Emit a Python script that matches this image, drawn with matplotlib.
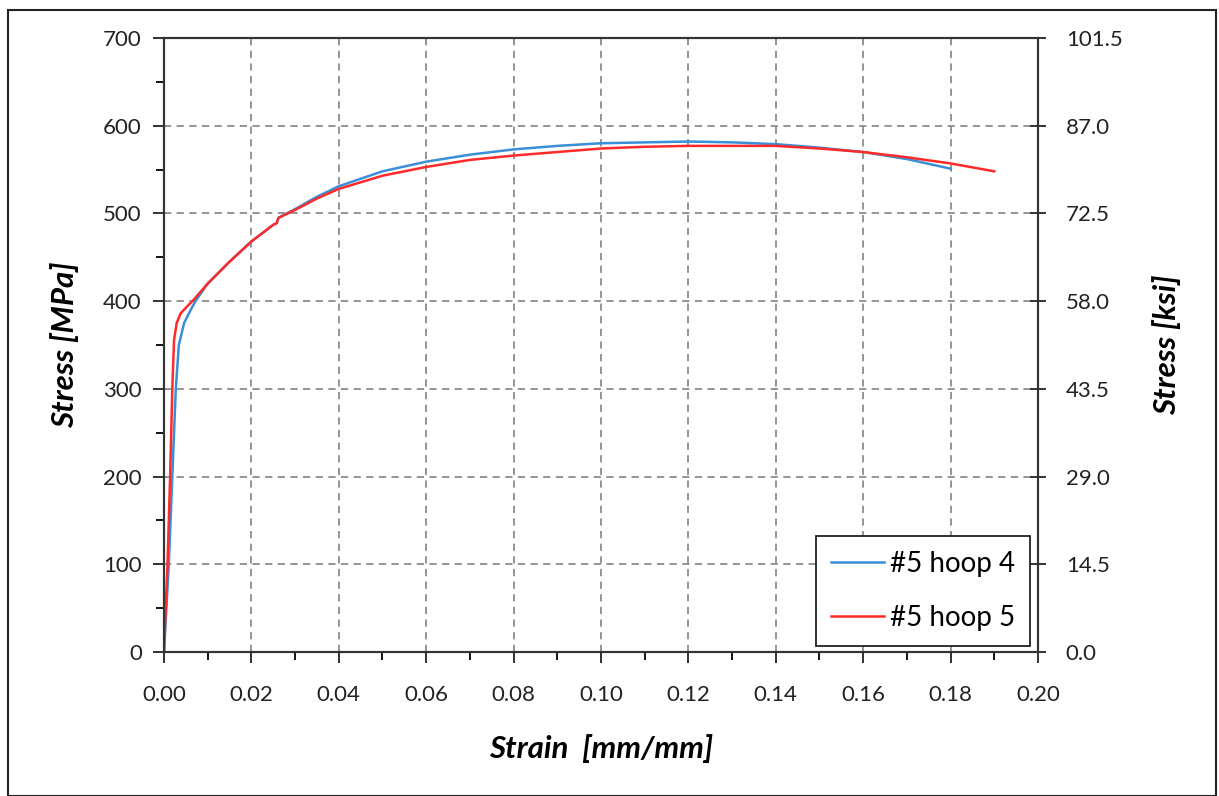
import matplotlib
matplotlib.use("Agg")
import matplotlib.pyplot as plt
from matplotlib.ticker import MultipleLocator, FixedLocator, FormatStrFormatter
from matplotlib.patches import Rectangle

# Tensile test data: strain [mm/mm] and engineering stress [MPa]
strain_hoop4 = [0.0, 0.0011, 0.0019, 0.0027, 0.0034, 0.0046, 0.0061, 0.0072, 0.010,
                0.015, 0.020, 0.025, 0.0258, 0.0262, 0.030, 0.035, 0.040, 0.050,
                0.060, 0.070, 0.080, 0.090, 0.100, 0.110, 0.120, 0.130, 0.140,
                0.150, 0.160, 0.170, 0.180]
stress_hoop4 = [0.0, 100, 200, 300, 350, 375, 390, 400, 420,
                445, 468, 487, 489, 495, 505, 519, 531, 548,
                559, 567, 573, 577, 580, 581, 582, 581, 579,
                575, 570, 562, 551]

strain_hoop5 = [0.0, 0.0008, 0.0014, 0.0019, 0.0023, 0.0029, 0.0038, 0.0053, 0.0065,
                0.010, 0.015, 0.020, 0.025, 0.0258, 0.0262, 0.030, 0.035, 0.040,
                0.050, 0.060, 0.070, 0.080, 0.090, 0.100, 0.110, 0.120, 0.130,
                0.140, 0.150, 0.160, 0.170, 0.180, 0.190]
stress_hoop5 = [0.0, 100, 200, 300, 356, 375, 386, 394, 400,
                420, 445, 468, 487, 489, 495, 504, 517, 528,
                543, 553, 561, 566, 570, 574, 576, 577, 577,
                577, 574, 570, 564, 557, 548]

label_hoop4 = "#5 hoop 4"
label_hoop5 = "#5 hoop 5"

mpa_ticks = [0, 100, 200, 300, 400, 500, 600, 700]
ksi_ticks = [0.0, 14.5, 29.0, 43.5, 58.0, 72.5, 87.0, 101.5]

plt.rcParams['font.family'] = ['Lato', 'DejaVu Sans']

fig = plt.figure(figsize=(12.19, 7.96), dpi=100)
ax = fig.add_axes([164 / 1219, 1 - 652 / 796, (1038 - 164) / 1219, (652 - 38) / 796])

ax.plot(strain_hoop4, stress_hoop4, color="#3a8fd8", lw=1.8, label=label_hoop4)
ax.plot(strain_hoop5, stress_hoop5, color="#ff2a2a", lw=1.8, label=label_hoop5)

ax.set_xlim(0, 0.20)
ax.set_ylim(0, 700)
ax.xaxis.set_major_locator(MultipleLocator(0.02))
ax.xaxis.set_minor_locator(MultipleLocator(0.01))
ax.xaxis.set_major_formatter(FormatStrFormatter("%.2f"))
ax.yaxis.set_major_locator(FixedLocator(mpa_ticks))
ax.yaxis.set_minor_locator(MultipleLocator(50))

ax.grid(True, which="major", color="#8c8c8c", linestyle=(0, (4, 3)), lw=1.3)
ax.tick_params(which="major", direction="out", length=8, width=1.3, labelsize=16,
               colors="#222222", pad=8)
ax.tick_params(which="minor", direction="out", length=6, width=1.3)
ax.tick_params(axis="x", pad=16)
for s in ax.spines.values():
    s.set_linewidth(1.5)
    s.set_color("#333333")

ax.set_xlabel("Strain  [mm/mm]", fontsize=22.5, fontweight="bold", fontstyle="italic",
              labelpad=21)
ax.set_ylabel("Stress [MPa]", fontsize=22.5, fontweight="bold", fontstyle="italic",
              labelpad=17)

ax2 = ax.twinx()
ax2.set_ylim(0, 101.5)
ax2.yaxis.set_major_locator(FixedLocator(ksi_ticks))
ax2.yaxis.set_major_formatter(FormatStrFormatter("%.1f"))
ax2.tick_params(direction="inout", length=12, width=1.3, labelsize=16, colors="#222222",
                pad=14)
for s in ax2.spines.values():
    s.set_linewidth(1.5)
    s.set_color("#333333")
ax2.set_ylabel("Stress [ksi]", fontsize=22.5, fontweight="bold", fontstyle="italic",
               labelpad=21)

leg = ax.legend(loc="lower right", fontsize=20, frameon=True, fancybox=False,
                edgecolor="#222222", framealpha=1, handlelength=1.9, handletextpad=0.2,
                labelspacing=1.0, borderpad=0.55, borderaxespad=0,
                bbox_to_anchor=(0.991, 0.01))
leg.get_frame().set_linewidth(1.3)

# outer frame around the whole figure
fig.patches.append(Rectangle((8 / 1219, 0.0), 1208 / 1219, 1 - 10 / 796,
                             transform=fig.transFigure, fill=False,
                             edgecolor="#222222", lw=1.5))

fig.savefig("out.png", dpi=100)
